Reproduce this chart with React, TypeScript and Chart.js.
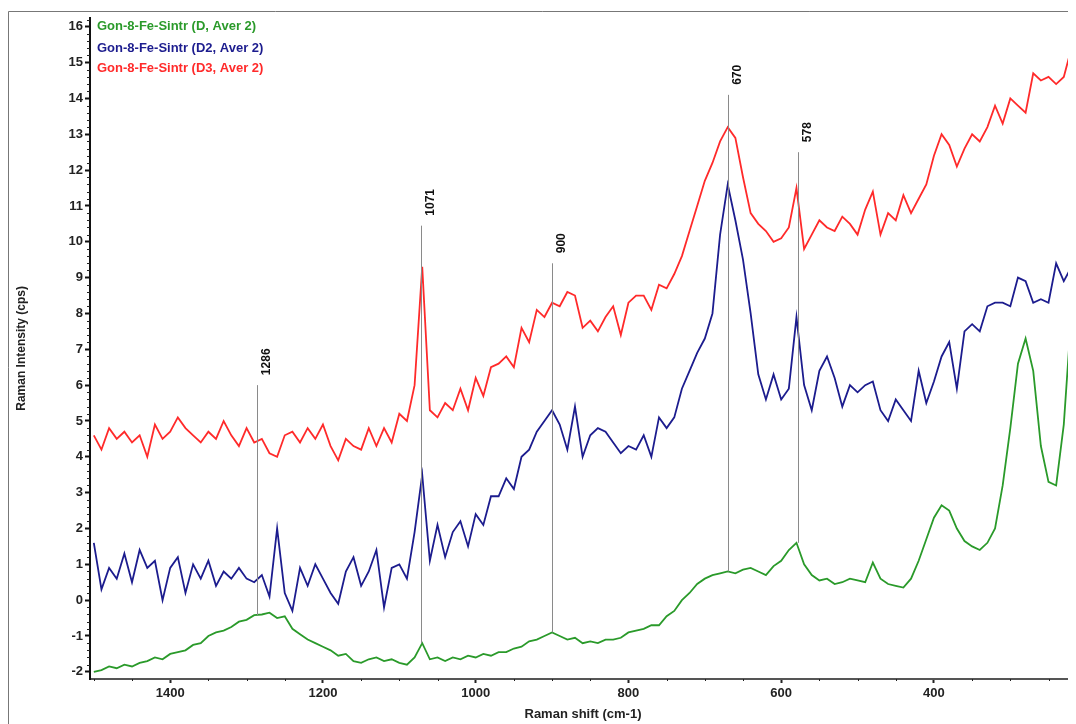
import React, { useEffect, useRef } from "react";
import { Chart, registerables } from "chart.js";

Chart.register(...registerables);

const FONT = 'Arial, "Liberation Sans", Helvetica, sans-serif';

// Raman shift grid (cm-1)
const ramanShift = [
  1500, 1490, 1480, 1470, 1460, 1450, 1440, 1430, 1420, 1410,
  1400, 1390, 1380, 1370, 1360, 1350, 1340, 1330, 1320, 1310,
  1300, 1290, 1280, 1270, 1260, 1250, 1240, 1230, 1220, 1210,
  1200, 1190, 1180, 1170, 1160, 1150, 1140, 1130, 1120, 1110,
  1100, 1090, 1080, 1070, 1060, 1050, 1040, 1030, 1020, 1010,
  1000, 990, 980, 970, 960, 950, 940, 930, 920, 910,
  900, 890, 880, 870, 860, 850, 840, 830, 820, 810,
  800, 790, 780, 770, 760, 750, 740, 730, 720, 710,
  700, 690, 680, 670, 660, 650, 640, 630, 620, 610,
  600, 590, 580, 570, 560, 550, 540, 530, 520, 510,
  500, 490, 480, 470, 460, 450, 440, 430, 420, 410,
  400, 390, 380, 370, 360, 350, 340, 330, 320, 310,
  300, 290, 280, 270, 260, 250, 240, 230, 220, 216, 214,
];

// Gon-8-Fe-Sintr (D, Aver 2)
const intensityD = [
  -2.0, -1.95, -1.85, -1.9, -1.8, -1.85, -1.75, -1.7, -1.6, -1.65,
  -1.5, -1.45, -1.4, -1.25, -1.2, -1.0, -0.9, -0.85, -0.75, -0.6,
  -0.55, -0.42, -0.4, -0.35, -0.5, -0.45, -0.8, -0.95, -1.1, -1.2,
  -1.3, -1.4, -1.55, -1.5, -1.7, -1.75, -1.65, -1.6, -1.7, -1.65,
  -1.75, -1.8, -1.6, -1.2, -1.65, -1.6, -1.7, -1.6, -1.65, -1.55,
  -1.6, -1.5, -1.55, -1.45, -1.45, -1.35, -1.3, -1.15, -1.1, -1.0,
  -0.9, -1.0, -1.1, -1.05, -1.2, -1.15, -1.2, -1.1, -1.1, -1.05,
  -0.9, -0.85, -0.8, -0.7, -0.7, -0.45, -0.3, 0.0, 0.2, 0.45,
  0.6, 0.7, 0.75, 0.8, 0.75, 0.85, 0.9, 0.8, 0.7, 0.95,
  1.1, 1.4, 1.6, 1.0, 0.7, 0.55, 0.6, 0.45, 0.5, 0.6,
  0.55, 0.5, 1.05, 0.6, 0.45, 0.4, 0.35, 0.6, 1.1, 1.7,
  2.3, 2.65, 2.5, 2.0, 1.65, 1.5, 1.4, 1.6, 2.0, 3.2,
  4.8, 6.6, 7.3, 6.4, 4.3, 3.3, 3.2, 4.9, 8.0, 8.7, 7.8,
];

// Gon-8-Fe-Sintr (D2, Aver 2)
const intensityD2 = [
  1.6, 0.3, 0.9, 0.6, 1.3, 0.5, 1.4, 0.9, 1.1, 0.0,
  0.9, 1.2, 0.2, 1.0, 0.6, 1.1, 0.4, 0.8, 0.6, 0.9,
  0.6, 0.5, 0.7, 0.1, 2.0, 0.2, -0.3, 0.9, 0.4, 1.0,
  0.6, 0.2, -0.1, 0.8, 1.2, 0.4, 0.8, 1.4, -0.2, 0.9,
  1.0, 0.6, 1.9, 3.5, 1.1, 2.1, 1.2, 1.9, 2.2, 1.5,
  2.4, 2.1, 2.9, 2.9, 3.4, 3.1, 4.0, 4.2, 4.7, 5.0,
  5.3, 4.9, 4.2, 5.4, 4.0, 4.6, 4.8, 4.7, 4.4, 4.1,
  4.3, 4.2, 4.6, 4.0, 5.1, 4.8, 5.1, 5.9, 6.4, 6.9,
  7.3, 8.0, 10.2, 11.6, 10.6, 9.5, 8.0, 6.3, 5.6, 6.3,
  5.6, 5.9, 7.9, 6.0, 5.3, 6.4, 6.8, 6.2, 5.4, 6.0,
  5.8, 6.0, 6.1, 5.3, 5.0, 5.6, 5.3, 5.0, 6.4, 5.5,
  6.1, 6.8, 7.2, 5.9, 7.5, 7.7, 7.5, 8.2, 8.3, 8.3,
  8.2, 9.0, 8.9, 8.3, 8.4, 8.3, 9.4, 8.9, 9.3, 9.9, 10.0,
];

// Gon-8-Fe-Sintr (D3, Aver 2)
const intensityD3 = [
  4.6, 4.2, 4.8, 4.5, 4.7, 4.4, 4.6, 4.0, 4.9, 4.5,
  4.7, 5.1, 4.8, 4.6, 4.4, 4.7, 4.5, 5.0, 4.6, 4.3,
  4.8, 4.4, 4.5, 4.1, 4.0, 4.6, 4.7, 4.4, 4.8, 4.5,
  4.9, 4.3, 3.9, 4.5, 4.3, 4.2, 4.8, 4.3, 4.8, 4.4,
  5.2, 5.0, 6.0, 9.3, 5.3, 5.1, 5.5, 5.3, 5.9, 5.3,
  6.2, 5.7, 6.5, 6.6, 6.8, 6.5, 7.6, 7.2, 8.1, 7.9,
  8.3, 8.2, 8.6, 8.5, 7.6, 7.8, 7.5, 7.9, 8.2, 7.4,
  8.3, 8.5, 8.5, 8.1, 8.8, 8.7, 9.1, 9.6, 10.3, 11.0,
  11.7, 12.2, 12.8, 13.2, 12.9, 11.8, 10.8, 10.5, 10.3, 10.0,
  10.1, 10.4, 11.5, 9.8, 10.2, 10.6, 10.4, 10.3, 10.7, 10.5,
  10.2, 10.9, 11.4, 10.2, 10.8, 10.6, 11.3, 10.8, 11.2, 11.6,
  12.4, 13.0, 12.7, 12.1, 12.6, 13.0, 12.8, 13.2, 13.8, 13.3,
  14.0, 13.8, 13.6, 14.7, 14.5, 14.6, 14.4, 14.6, 15.4, 15.3, 15.2,
];

const seriesLabels = [
  "Gon-8-Fe-Sintr (D, Aver 2)",
  "Gon-8-Fe-Sintr (D2, Aver 2)",
  "Gon-8-Fe-Sintr (D3, Aver 2)",
];
const seriesColors = ["#2a9a2a", "#1c1c8e", "#ff2a2a"];

// Peak markers
const peakShifts = [1286, 1071, 900, 670, 578];
const peakTops = [6.0, 10.45, 9.4, 14.1, 12.5];
const peakBottoms = [-0.42, -1.2, -0.9, 0.8, 1.6];

const xTickValues = [1400, 1200, 1000, 800, 600, 400];
const yTickValues = [-2, -1, 0, 1, 2, 3, 4, 5, 6, 7, 8, 9, 10, 11, 12, 13, 14, 15, 16];

const decorPlugin = {
  id: "decor",
  beforeDraw(chart: any) {
    const ctx = chart.ctx;
    ctx.save();
    ctx.fillStyle = "#ffffff";
    ctx.fillRect(0, 0, chart.width, chart.height);
    ctx.strokeStyle = "#777";
    ctx.lineWidth = 1;
    ctx.beginPath();
    ctx.moveTo(0.5, chart.height);
    ctx.lineTo(0.5, 3.5);
    ctx.lineTo(chart.width, 3.5);
    ctx.stroke();
    ctx.restore();
  },
  afterDatasetsDraw(chart: any) {
    const ctx = chart.ctx;
    const xs = chart.scales.x;
    const ys = chart.scales.y;
    const area = chart.chartArea;
    ctx.save();
    // peak lines and labels
    peakShifts.forEach((p, i) => {
      const x = Math.round(xs.getPixelForValue(p)) + 0.5;
      const yt = ys.getPixelForValue(peakTops[i]);
      const yb = ys.getPixelForValue(peakBottoms[i]);
      ctx.strokeStyle = "#8a8a8a";
      ctx.lineWidth = 1;
      ctx.beginPath();
      ctx.moveTo(x, yb);
      ctx.lineTo(x, yt);
      ctx.stroke();
      ctx.save();
      ctx.translate(x + 9, yt - 10);
      ctx.rotate(-Math.PI / 2);
      ctx.fillStyle = "#111";
      ctx.font = `bold 12px ${FONT}`;
      ctx.textAlign = "left";
      ctx.textBaseline = "middle";
      ctx.fillText(String(p), 0, 0);
      ctx.restore();
    });
    // minor ticks
    ctx.strokeStyle = "#222";
    ctx.lineWidth = 1;
    ctx.beginPath();
    for (let v = 250; v <= 1500; v += 50) {
      if (v % 200 === 0) continue;
      const x = Math.round(xs.getPixelForValue(v)) + 0.5;
      if (x < area.left || x > area.right) continue;
      ctx.moveTo(x, area.bottom);
      ctx.lineTo(x, area.bottom + 2);
    }
    for (let k = -11; k <= 81; k++) {
      const v = k / 5;
      if (k % 5 === 0) continue;
      const y = Math.round(ys.getPixelForValue(v)) + 0.5;
      if (y < area.top || y > area.bottom) continue;
      ctx.moveTo(area.left - 3, y);
      ctx.lineTo(area.left, y);
    }
    ctx.stroke();
    // legend text
    ctx.font = `bold 13px ${FONT}`;
    ctx.textAlign = "left";
    ctx.textBaseline = "middle";
    const legendY = [area.top + 9, area.top + 31, area.top + 51];
    seriesLabels.forEach((t, i) => {
      ctx.fillStyle = seriesColors[i];
      ctx.fillText(t, area.left + 7, legendY[i]);
    });
    ctx.restore();
  },
};

export default function App() {
  const ref = useRef<HTMLCanvasElement | null>(null);
  useEffect(() => {
    if (!ref.current) return;
    const series = [intensityD, intensityD2, intensityD3];
    const chart = new Chart(ref.current, {
      type: "line",
      data: {
        datasets: series.map((s, i) => ({
          label: seriesLabels[i],
          data: s.map((v, j) => ({ x: ramanShift[j], y: v })),
          borderColor: seriesColors[i],
          borderWidth: 1.8,
          pointRadius: 0,
          tension: 0,
          fill: false,
        })),
      },
      options: {
        responsive: false,
        animation: false,
        layout: { padding: { top: 5, right: 0, left: 0, bottom: 0 } },
        plugins: {
          legend: { display: false },
          tooltip: { enabled: false },
        },
        scales: {
          x: {
            type: "linear",
            reverse: true,
            min: 214,
            max: 1505,
            afterBuildTicks: (s: any) => {
              s.ticks = xTickValues.map((v) => ({ value: v }));
            },
            ticks: {
              autoSkip: false,
              maxRotation: 0,
              color: "#222",
              padding: 3,
              font: { family: FONT, size: 13, weight: "bold" },
              callback: (v: any) => String(v),
            },
            grid: {
              drawOnChartArea: false,
              drawTicks: true,
              tickLength: 4,
              tickWidth: 2,
              color: "#222",
            },
            border: { color: "#555", width: 2 },
            title: {
              display: true,
              text: "Raman shift (cm-1)",
              color: "#222",
              font: { family: FONT, size: 13, weight: "bold" },
              padding: { top: 0, bottom: 2 },
            },
            afterFit: (s: any) => {
              s.height = 45;
            },
          },
          y: {
            type: "linear",
            min: -2.2,
            max: 16.25,
            afterBuildTicks: (s: any) => {
              s.ticks = yTickValues.map((v) => ({ value: v }));
            },
            ticks: {
              autoSkip: false,
              color: "#222",
              padding: 2,
              font: { family: FONT, size: 13, weight: "bold" },
              callback: (v: any) => String(v),
            },
            grid: {
              drawOnChartArea: false,
              drawTicks: true,
              tickLength: 5,
              tickWidth: 2,
              color: "#111",
            },
            border: { color: "#111", width: 2 },
            title: {
              display: true,
              text: "Raman Intensity (cps)",
              color: "#222",
              font: { family: FONT, size: 12, weight: "bold" },
              padding: { top: 6, bottom: 0 },
            },
            afterFit: (s: any) => {
              s.width = 82;
            },
          },
        },
      },
      plugins: [decorPlugin],
    });
    return () => chart.destroy();
  }, []);
  return (
    <canvas
      ref={ref}
      width={1068}
      height={716}
      style={{ display: "block", width: "1068px", height: "716px" }}
    />
  );
}
